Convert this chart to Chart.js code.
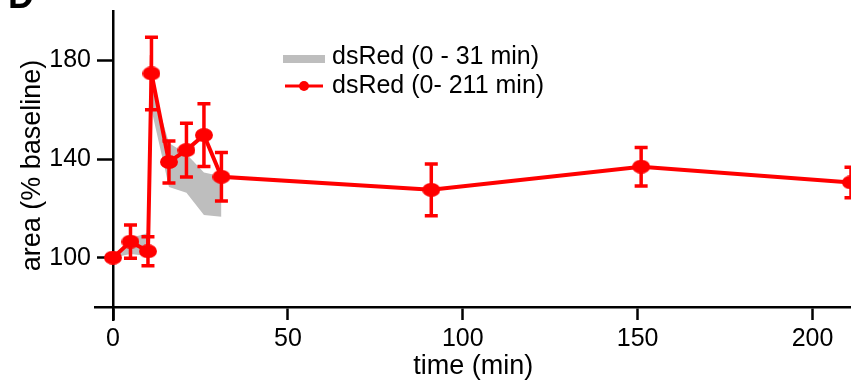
<!DOCTYPE html>
<html>
<head>
<meta charset="utf-8">
<script src="https://cdn.jsdelivr.net/npm/chart.js@4"></script>
<style>
  html, body { margin: 0; padding: 0; background: #fff; }
  #wrap { width: 851px; height: 385px; position: relative; }
</style>
</head>
<body>
<div id="wrap"><canvas id="chart"></canvas></div>
<script>
// dsRed, 0 - 211 min (mean and error)
const times = [0, 5, 10, 11, 16, 21, 26, 31, 91, 151, 211];
const means = [100, 106.5, 102.6, 174.7, 138.8, 143.6, 149.7, 132.8, 127.5, 136.9, 130.5];
const errors = [0, 6.7, 5.9, 14.7, 8.5, 10.9, 12.7, 9.8, 10.5, 7.8, 6.2];

// dsRed, 0 - 31 min (shaded range)
const bandTimes = [0, 5, 10, 11, 16, 21, 26, 31];
const bandUpper = [100, 108, 110, 171, 146.5, 142, 134.5, 133];
const bandLower = [100, 101.5, 100.7, 160, 128.6, 126.3, 117.3, 116.6];

const xTicks = [0, 50, 100, 150, 200];
const yTicks = [100, 140, 180];
const legendLabels = ["dsRed (0 - 31 min)", "dsRed (0- 211 min)"];

const RED = "#ff0000";
const GREY = "#bebebe";
const FONT = "'Liberation Sans', Arial, sans-serif";
Chart.defaults.font.family = FONT;
Chart.defaults.color = "#000";

// markers in the figure are slightly wider than tall
const dot = document.createElement("canvas");
dot.width = 18;
dot.height = 14;
const dctx = dot.getContext("2d");
dctx.fillStyle = RED;
dctx.beginPath();
dctx.ellipse(9, 7, 9, 7, 0, 0, Math.PI * 2);
dctx.fill();

const toPoints = (xs, ys) => xs.map((v, i) => ({ x: v, y: ys[i] }));

// no extra room for half-labels at the axis ends
const noPad = (s) => {
  s.paddingTop = 0;
  s.paddingBottom = 0;
  s.paddingLeft = 0;
  s.paddingRight = 0;
};

const extras = {
  id: "extras",
  afterLayout(chart) {
    // x axis line starts a little left of 0, and the axis titles sit
    // slightly off-centre in the original
    const { x, y } = chart.scales;
    x.left = x.getPixelForValue(-5);
    y.bottom += 13;
  },
  afterDatasetsDraw(chart) {
    const { ctx, scales: { x, y } } = chart;
    ctx.save();
    ctx.strokeStyle = RED;
    ctx.lineWidth = 3.5;
    times.forEach((t, i) => {
      if (!errors[i]) return;
      const px = x.getPixelForValue(t);
      const top = y.getPixelForValue(means[i] + errors[i]);
      const bot = y.getPixelForValue(means[i] - errors[i]);
      ctx.beginPath();
      ctx.moveTo(px, top);
      ctx.lineTo(px, bot);
      ctx.moveTo(px - 6.5, top);
      ctx.lineTo(px + 6.5, top);
      ctx.moveTo(px - 6.5, bot);
      ctx.lineTo(px + 6.5, bot);
      ctx.stroke();
    });
    ctx.restore();
  },
  afterDraw(chart) {
    const { ctx } = chart;
    ctx.save();

    // legend
    ctx.lineCap = "butt";
    ctx.strokeStyle = GREY;
    ctx.lineWidth = 8;
    ctx.beginPath();
    ctx.moveTo(283, 59);
    ctx.lineTo(325, 59);
    ctx.stroke();

    ctx.strokeStyle = RED;
    ctx.lineWidth = 3;
    ctx.beginPath();
    ctx.moveTo(285, 86);
    ctx.lineTo(323, 86);
    ctx.stroke();
    ctx.fillStyle = RED;
    ctx.beginPath();
    ctx.arc(304, 86, 5, 0, Math.PI * 2);
    ctx.fill();

    ctx.fillStyle = "#000";
    ctx.font = "25px " + FONT;
    ctx.textBaseline = "alphabetic";
    ctx.fillText(legendLabels[0], 332, 64);
    ctx.fillText(legendLabels[1], 332, 93);

    // panel letter, cut off at the top
    ctx.font = "bold 36px " + FONT;
    ctx.fillText("D", 8, 8);
    ctx.restore();
  }
};

new Chart(document.getElementById("chart"), {
  type: "line",
  data: {
    datasets: [
      {
        data: toPoints(times, means),
        borderColor: RED,
        borderWidth: 4,
        pointStyle: dot,
        pointRadius: 8,
        pointHoverRadius: 8,
        tension: 0,
        fill: false,
        clip: false,
        order: 0,
      },
      {
        data: toPoints(bandTimes, bandUpper),
        borderWidth: 0,
        pointRadius: 0,
        tension: 0,
        fill: false,
        order: 1,
      },
      {
        data: toPoints(bandTimes, bandLower),
        borderWidth: 0,
        pointRadius: 0,
        tension: 0,
        backgroundColor: GREY,
        fill: "-1",
        order: 1,
      },
    ],
  },
  options: {
    responsive: true,
    maintainAspectRatio: false,
    animation: false,
    layout: { autoPadding: false, padding: { top: 11, left: 0, right: 0, bottom: 0 } },
    plugins: {
      legend: { display: false },
      tooltip: { enabled: false },
    },
    scales: {
      x: {
        type: "linear",
        min: 0,
        max: 211,
        afterBuildTicks: (s) => { s.ticks = xTicks.map((v) => ({ value: v })); },
        afterFit: (s) => { s.height = 78; noPad(s); },
        grid: { drawOnChartArea: false, tickLength: 13, tickWidth: 2.5, tickColor: "#000" },
        border: { color: "#000", width: 2.5 },
        ticks: { color: "#000", font: { size: 25 }, padding: 4, maxRotation: 0, autoSkip: false },
        title: {
          display: true,
          text: "time (min)",
          color: "#000",
          font: { size: 27 },
          padding: { top: 0, bottom: 2 },
        },
      },
      y: {
        type: "linear",
        min: 80,
        max: 200,
        afterBuildTicks: (s) => { s.ticks = yTicks.map((v) => ({ value: v })); },
        afterFit: (s) => { s.width = 113; noPad(s); },
        grid: { drawOnChartArea: false, tickLength: 16, tickWidth: 2.5, tickColor: "#000" },
        border: { color: "#000", width: 2.5 },
        ticks: { color: "#000", font: { size: 25 }, padding: 6 },
        title: {
          display: true,
          text: "area (% baseline)",
          color: "#000",
          font: { size: 27 },
          padding: { top: 16, bottom: 0 },
        },
      },
    },
  },
  plugins: [extras],
});
</script>
</body>
</html>
